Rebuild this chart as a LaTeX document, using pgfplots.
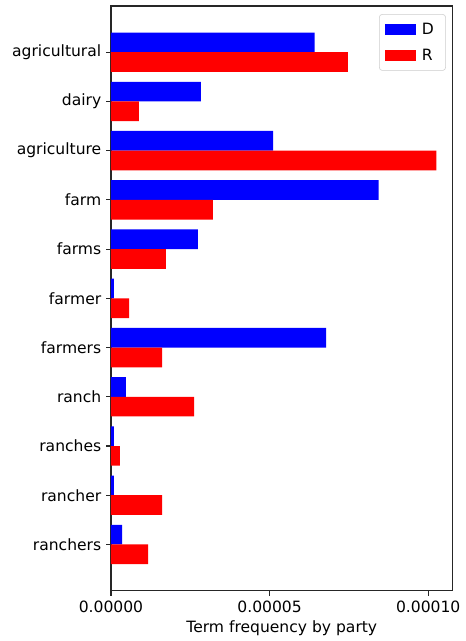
\documentclass[border=0pt]{standalone}
\usepackage{fontspec}
\setmainfont{DejaVu Sans}
\usepackage{pgfplots}
\pgfplotsset{compat=1.18}
\begin{document}
\begin{tikzpicture}
% fixed canvas
\path (-79.9bp,-36.2bp) rectangle (250.6bp,425.3bp);
\begin{axis}[
  at={(0,0)}, anchor=south west,
  scale only axis, width=246bp, height=421bp,
  xbar, bar width=0.4, bar shift=0pt,
  xmin=0, xmax=1.077e-4,
  ymin=-0.94, ymax=10.94, y dir=reverse,
  ytick={0,1,2,3,4,5,6,7,8,9,10},
  yticklabels={agricultural,dairy,agriculture,farm,farms,farmer,farmers,ranch,ranches,rancher,ranchers},
  xtick={0,0.00005,0.0001},
  scaled x ticks=false,
  /pgf/number format/fixed,
  /pgf/number format/fixed zerofill,
  /pgf/number format/precision=5,
  /pgf/number format/assume math mode=true,
  xlabel={Term frequency by party},
  tick label style={font=\fontsize{11.2bp}{13bp}\selectfont},
  xticklabel style={yshift=-0.5bp},
  label style={font=\fontsize{11.2bp}{13bp}\selectfont},
  xlabel style={yshift=1.5bp},
  tick align=outside, major tick length=3.5bp,
  xtick pos=bottom, ytick pos=left,
  axis line style={line width=0.8bp, black!85},
  every tick/.style={line width=0.8bp, black!85},
  legend style={at={(0.98,0.986)}, anchor=north east,
    draw=black!20, rounded corners=2bp, fill=white, fill opacity=0.8, text opacity=1,
    font=\fontsize{11.2bp}{13bp}\selectfont, row sep=5bp,
    inner xsep=4bp, inner ysep=4bp,
    nodes={inner xsep=4.5bp}},
  legend cell align=left,
  legend image code/.code={\fill[#1, sharp corners, fill opacity=1] (0bp,-3.85bp) rectangle (22bp,3.85bp);},
]
% D bars (upper bar in each group)
\addplot[fill={rgb,255:red,0;green,0;blue,255}, draw=none] coordinates {
  (6.42e-5,-0.2) (2.83e-5,0.8) (5.11e-5,1.8) (8.44e-5,2.8) (2.74e-5,3.8)
  (0.095e-5,4.8) (6.78e-5,5.8) (0.47e-5,6.8) (0.095e-5,7.8) (0.095e-5,8.8) (0.35e-5,9.8)
};
\addlegendentry{D}
% R bars (lower bar in each group)
\addplot[fill={rgb,255:red,255;green,0;blue,0}, draw=none] coordinates {
  (7.47e-5,0.2) (0.88e-5,1.2) (10.26e-5,2.2) (3.21e-5,3.2) (1.73e-5,4.2)
  (0.57e-5,5.2) (1.61e-5,6.2) (2.62e-5,7.2) (0.28e-5,8.2) (1.61e-5,9.2) (1.17e-5,10.2)
};
\addlegendentry{R}
\end{axis}
\end{tikzpicture}
\end{document}
